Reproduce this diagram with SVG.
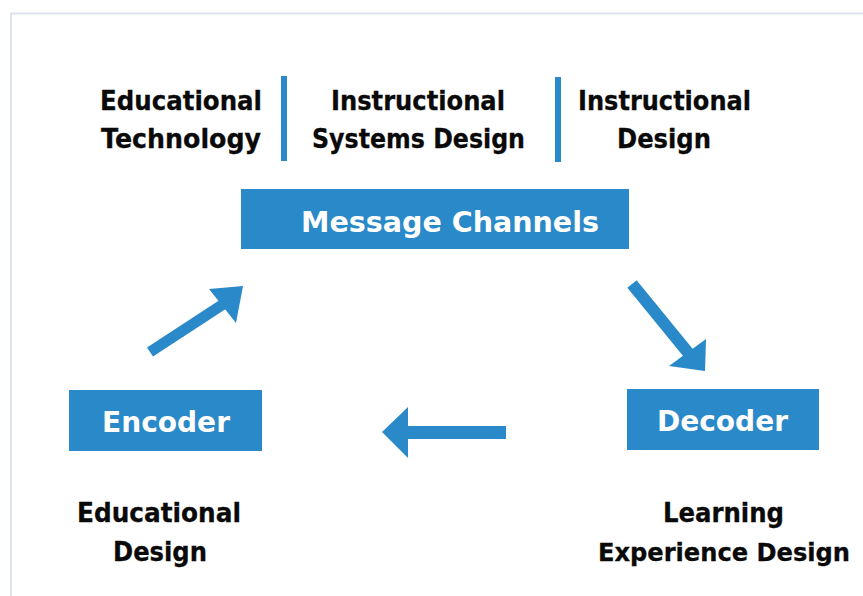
<svg xmlns="http://www.w3.org/2000/svg" width="863" height="596" viewBox="0 0 863 596">
<style>
.bg{fill:#ffffff}
.frame{fill:none;stroke:#dde3ee;stroke-width:2}
.box{fill:#2a89c9}
.blue{fill:#2a89c9}
.shaft{stroke:#2a89c9;fill:none}
.lbl{font-family:"DejaVu Sans","Liberation Sans",sans-serif;font-weight:bold;fill:#ffffff;font-size:28px}
.txt{font-family:"DejaVu Sans","Liberation Sans",sans-serif;font-weight:bold;fill:#0a0a0a;stroke:#0a0a0a;stroke-width:0.3;font-size:26px;text-anchor:start}
</style>
<rect class="bg" x="0" y="0" width="863" height="596"/>
<path class="frame" d="M11,596 V13.5 H863"/>

<g id="top-labels">
  <rect class="blue" x="281" y="76" width="6" height="85"/>
  <rect class="blue" x="555" y="77" width="6" height="85"/>
  <text class="txt" x="100" y="110" textLength="162" lengthAdjust="spacingAndGlyphs">Educational</text>
  <text class="txt" x="101" y="148" textLength="160" lengthAdjust="spacingAndGlyphs">Technology</text>
  <text class="txt" x="331" y="110" textLength="174" lengthAdjust="spacingAndGlyphs">Instructional</text>
  <text class="txt" x="312" y="148" textLength="213" lengthAdjust="spacingAndGlyphs">Systems Design</text>
  <text class="txt" x="578" y="110" textLength="173" lengthAdjust="spacingAndGlyphs">Instructional</text>
  <text class="txt" x="617" y="148" textLength="94" lengthAdjust="spacingAndGlyphs">Design</text>
</g>

<g id="message-channels">
  <rect class="box" x="241" y="189" width="388" height="60"/>
  <text class="lbl" x="301" y="232" textLength="298" lengthAdjust="spacingAndGlyphs">Message Channels</text>
</g>

<g id="encoder">
  <rect class="box" x="69" y="390" width="193" height="61"/>
  <text class="lbl" x="102" y="432" textLength="128" lengthAdjust="spacingAndGlyphs">Encoder</text>
</g>

<g id="decoder">
  <rect class="box" x="627" y="389" width="192" height="61"/>
  <text class="lbl" x="657" y="431" textLength="131" lengthAdjust="spacingAndGlyphs">Decoder</text>
</g>

<g id="encoder-caption">
  <text class="txt" x="77" y="522" textLength="164" lengthAdjust="spacingAndGlyphs">Educational</text>
  <text class="txt" x="113" y="561" textLength="94" lengthAdjust="spacingAndGlyphs">Design</text>
</g>

<g id="decoder-caption">
  <text class="txt" x="663" y="522" textLength="121" lengthAdjust="spacingAndGlyphs">Learning</text>
  <text class="txt" x="598" y="561" style="font-size:24px" textLength="252" lengthAdjust="spacingAndGlyphs">Experience Design</text>
</g>

<g id="connectors">
  <line class="shaft" x1="150" y1="352" x2="225" y2="303" stroke-width="11"/>
  <polygon class="blue" points="209,289 243,286 236,323"/>
  <line class="shaft" x1="632" y1="284" x2="690" y2="355" stroke-width="12"/>
  <polygon class="blue" points="706,339 705,371 669,366"/>
  <rect class="blue" x="404" y="426" width="102" height="13"/>
  <polygon class="blue" points="382,432 408,407 408,458"/>
</g>
</svg>
